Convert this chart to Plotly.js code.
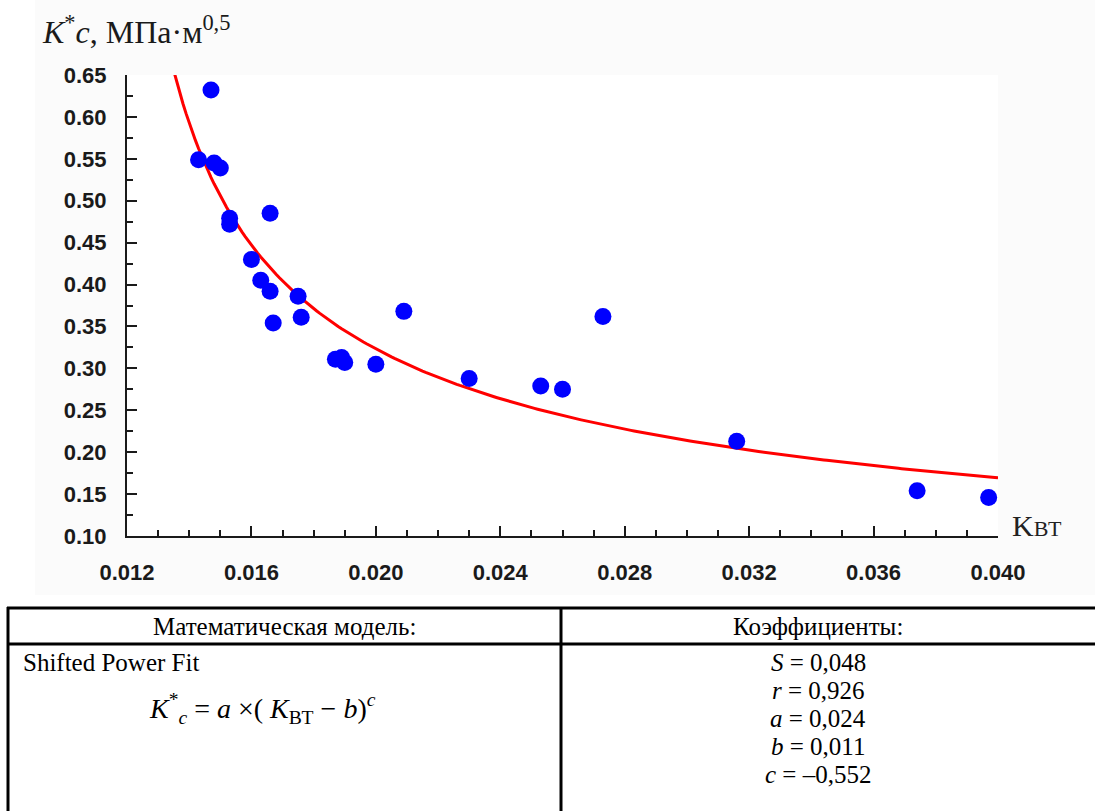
<!DOCTYPE html>
<html>
<head>
<meta charset="utf-8">
<script src="https://cdn.plot.ly/plotly-3.0.1.min.js"></script>
<style>
  html, body { margin: 0; padding: 0; background: #fff; }
  #chart { width: 1095px; height: 811px; }
</style>
</head>
<body>
<div id="chart"></div>
<script>
// Measured specimens: K_BT against crack resistance K*c
const kvt = [0.0147, 0.0143, 0.0148, 0.0150, 0.0153, 0.0153, 0.0166, 0.0160, 0.0163, 0.0166,
             0.0175, 0.0167, 0.0176, 0.0187, 0.0189, 0.0190, 0.0200, 0.0209, 0.0230, 0.0253,
             0.0260, 0.0273, 0.0316, 0.0374, 0.0397];
const kc  = [0.632, 0.549, 0.545, 0.539, 0.479, 0.472, 0.485, 0.430, 0.405, 0.392,
             0.386, 0.354, 0.361, 0.311, 0.313, 0.307, 0.305, 0.368, 0.288, 0.279,
             0.275, 0.362, 0.213, 0.154, 0.146];

// Shifted power fit coefficients
const fitA = 0.024;
const fitB = 0.011;
const fitC = -0.552;

// Table text
const modelHeader = 'Математическая модель:';
const coefHeader = 'Коэффициенты:';
const modelName = 'Shifted Power Fit';
const coefNames = ['S', 'r', 'a', 'b', 'c'];
const coefValues = ['0,048', '0,926', '0,024', '0,011', '–0,552'];

// Fitted curve sampled along the K_BT axis
const fitX = [], fitY = [];
for (let i = 0; i <= 265; i++) {
  const x = 0.0135 + i * 0.0001;
  fitX.push(x);
  fitY.push(fitA * Math.pow(x - fitB, fitC));
}

// Plot-area frame in pixels, used to place paper-referenced items
const W = 1095, H = 811;
const L = 127, R = 998, T = 75, B = 536;
const px = v => (v - L) / (R - L);
const py = v => (B - v) / (B - T);

const serif = 'Liberation Serif, Times New Roman, serif';
const sans = 'Liberation Sans, Arial, sans-serif';

function ann(text, x, y, xanchor, size, extra) {
  return Object.assign({
    xref: 'paper', yref: 'paper', x: px(x), y: py(y),
    xanchor: xanchor, yanchor: 'middle', showarrow: false, text: text,
    font: { family: serif, size: size, color: '#000' }
  }, extra || {});
}

const annotations = [
  ann('<i>K</i><sup>*</sup><i>c</i>, МПа·м<sup>0,5</sup>', 40, 30, 'left', 32, { font: { family: serif, size: 32, color: '#1a1a1a' } }),
  ann('K<span style="font-size:22px">ВТ</span>', 1010, 525, 'left', 30, { font: { family: serif, size: 30, color: '#222' } }),
  ann(modelHeader, 284, 626, 'center', 25),
  ann(coefHeader, 818, 626, 'center', 25),
  ann(modelName, 21, 662, 'left', 25),
  ann('<i>K</i><sup>*</sup><sub><i>c</i></sub> = <i>a</i> ×( <i>K</i><sub>ВТ</sub> − <i>b</i>)<sup><i>c</i></sup>', 262, 708, 'center', 28)
];
coefNames.forEach((n, i) => {
  annotations.push(ann('<i>' + n + '</i> = ' + coefValues[i], 818, 662 + i * 28, 'center', 25));
});

function line(x0, y0, x1, y1, w) {
  return { type: 'line', xref: 'paper', yref: 'paper', x0: px(x0), y0: py(y0), x1: px(x1), y1: py(y1),
           line: { color: '#000', width: w } };
}

const shapes = [
  { type: 'rect', xref: 'paper', yref: 'paper', layer: 'below', x0: px(35), x1: px(W), y0: py(0), y1: py(595),
    fillcolor: '#fbfbfb', line: { width: 0 } },
  { type: 'rect', xref: 'paper', yref: 'paper', layer: 'below', x0: 0, x1: 1, y0: 0, y1: 1,
    fillcolor: '#ffffff', line: { width: 0 } },
  line(7, 608, W, 608, 3),
  line(7, 644, W, 644, 3),
  line(8, 607, 8, H, 3),
  line(561, 607, 561, H, 3)
];

const traces = [
  {
    x: fitX, y: fitY, type: 'scatter', mode: 'lines',
    line: { color: '#ff0000', width: 3 }, hoverinfo: 'skip'
  },
  {
    x: kvt, y: kc, type: 'scatter', mode: 'markers',
    marker: { color: '#0000ff', size: 17 }
  }
];

const tickFont = { family: sans, size: 22, color: '#1a1a1a', weight: 'bold' };

const layout = {
  width: W, height: H, autosize: false,
  margin: { l: L, r: W - R, t: T, b: H - B, pad: 0 },
  paper_bgcolor: '#ffffff', plot_bgcolor: 'rgba(0,0,0,0)',
  showlegend: false,
  xaxis: {
    range: [0.012, 0.040], tick0: 0.012, dtick: 0.004, tickformat: '.3f',
    ticks: 'inside', ticklen: 10, tickwidth: 2, tickcolor: '#1a1a1a',
    showline: true, linewidth: 2, linecolor: '#1a1a1a', showgrid: false, zeroline: false,
    minor: { dtick: 0.001, ticks: 'inside', ticklen: 6, tickwidth: 2, tickcolor: '#1a1a1a', showgrid: false },
    tickfont: tickFont, ticklabelstandoff: 16
  },
  yaxis: {
    range: [0.10, 0.65], tick0: 0.10, dtick: 0.05, tickformat: '.2f',
    ticks: 'inside', ticklen: 10, tickwidth: 2, tickcolor: '#1a1a1a',
    showline: true, linewidth: 2, linecolor: '#1a1a1a', showgrid: false, zeroline: false,
    minor: { dtick: 0.025, ticks: 'inside', ticklen: 6, tickwidth: 2, tickcolor: '#1a1a1a', showgrid: false },
    tickfont: tickFont, ticklabelstandoff: 14
  },
  annotations: annotations,
  shapes: shapes
};

Plotly.newPlot('chart', traces, layout, { staticPlot: true, displayModeBar: false });
</script>
</body>
</html>
